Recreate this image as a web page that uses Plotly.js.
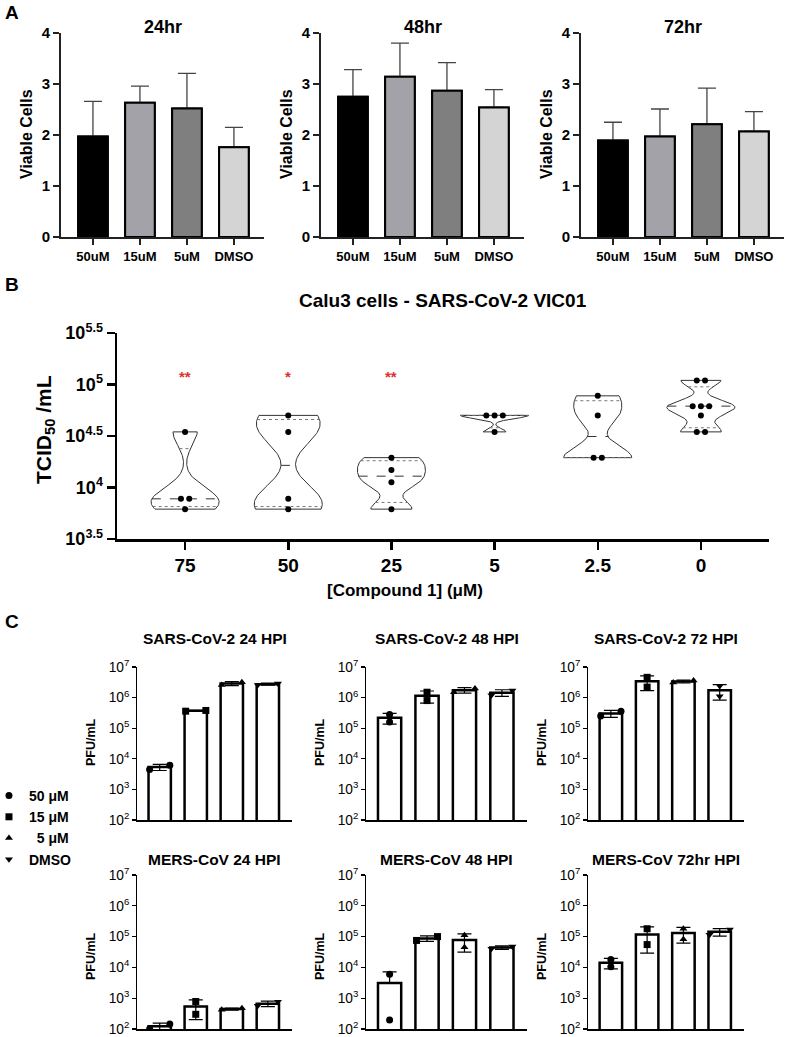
<!DOCTYPE html>
<html><head><meta charset="utf-8">
<script src="https://cdn.plot.ly/plotly-3.0.1.min.js"></script>
<style>html,body{margin:0;padding:0;background:#fff}</style>
</head><body><div id="chart" style="width:788px;height:1037px"></div>
<script>
// ---------------- DATA ----------------
// Panel A: viable cells (mean, upper SD)
const aCategories = ['50uM', '15uM', '5uM', 'DMSO'];
const aTitles = ['24hr', '48hr', '72hr'];
const aMean24 = [1.97, 2.63, 2.52, 1.76];
const aSD24 = [0.69, 0.33, 0.69, 0.39];
const aMean48 = [2.75, 3.14, 2.87, 2.54];
const aSD48 = [0.53, 0.66, 0.55, 0.35];
const aMean72 = [1.89, 1.97, 2.21, 2.07];
const aSD72 = [0.36, 0.54, 0.71, 0.39];
const aColors = ['#000000', '#a3a2a8', '#7f7f7f', '#d4d4d4'];

// Panel B: log10 TCID50/mL per dose
const bDoses = ['75', '50', '25', '5', '2.5', '0'];
const bLog75 = [4.54, 3.89, 3.89, 3.79];
const bLog50 = [4.70, 4.54, 3.89, 3.79];
const bLog25 = [4.29, 4.17, 4.05, 3.79];
const bLog5 = [4.70, 4.70, 4.70, 4.54];
const bLog2p5 = [4.89, 4.70, 4.29, 4.29];
const bLog0 = [5.04, 5.04, 4.79, 4.79, 4.79, 4.70, 4.54, 4.54];
const bSignificance = ['**', '*', '**', '', '', ''];
const bYTicks = [3.5, 4, 4.5, 5, 5.5];

// Panel C: PFU/mL, two replicates per condition
const cConditions = ['50 \u03bcM', '15 \u03bcM', '\u00a0\u00a05 \u03bcM', 'DMSO'];
const cSymbols = ['circle', 'square', 'triangle-up', 'triangle-down'];
const cTitles = ['SARS-CoV-2 24 HPI', 'SARS-CoV-2 48 HPI', 'SARS-CoV-2 72 HPI',
                 'MERS-CoV 24 HPI', 'MERS-CoV 48 HPI', 'MERS-CoV 72hr HPI'];
const cSars24 = [[4500, 6200], [360000, 380000], [2600000, 3200000], [2600000, 2900000]];
const cSars48 = [[280000, 160000], [1500000, 800000], [1500000, 2000000], [1200000, 1700000]];
const cSars72 = [[250000, 360000], [4600000, 2200000], [3100000, 3600000], [2400000, 1100000]];
const cMers24 = [[100, 145], [780, 300], [420, 470], [570, 760]];
const cMers48 = [[6000, 195], [75000, 100000], [110000, 45000], [40000, 48000]];
const cMers72 = [[18000, 10500], [180000, 55000], [180000, 82000], [115000, 170000]];

// ---------------- HELPERS ----------------
const W = 788, H = 1037;
const F = 'Liberation Sans, Arial, Helvetica, sans-serif';
const px = x => x / W;
const py = y => 1 - y / H;
const data = [];
const layout = {
  width: W, height: H, margin: {l: 0, r: 0, t: 0, b: 0, autoexpand: false},
  paper_bgcolor: '#fff', plot_bgcolor: 'rgba(0,0,0,0)',
  font: {family: F, color: '#000'},
  barmode: 'overlay', showlegend: true,
  annotations: [],
  legend: {x: -0.014, xanchor: 'left', y: py(780), yanchor: 'top', bgcolor: 'rgba(0,0,0,0)',
           font: {family: F, size: 14, weight: 'bold', color: '#000'}, itemwidth: 30, tracegroupgap: 0}
};
function ann(text, x, y, size, opts) {
  layout.annotations.push(Object.assign({text: text, x: px(x), y: py(y), xref: 'paper', yref: 'paper',
    showarrow: false, font: {family: F, size: size, color: '#000', weight: 'bold'},
    xanchor: 'center', yanchor: 'middle'}, opts || {}));
}

// ---------------- PANEL A ----------------
const aMeans = [aMean24, aMean48, aMean72];
const aSDs = [aSD24, aSD48, aSD72];
const aXdom = [[61, 264], [321, 524], [581, 784]];
for (let k = 0; k < 3; k++) {
  const n = k + 1, xa = 'x' + n, ya = 'y' + n;
  data.push({type: 'bar', x: aCategories, y: aMeans[k], xaxis: xa, yaxis: ya, width: 0.63,
    marker: {color: aColors, line: {color: '#000', width: 2}}, showlegend: false, hoverinfo: 'skip',
    error_y: {type: 'data', symmetric: false, array: aSDs[k], arrayminus: aSDs[k].map(() => 0),
              color: '#444', thickness: 1.3, width: 9}});
  data.push({type: 'bar', x: aCategories, y: aMeans[k], xaxis: xa, yaxis: ya, width: 0.63,
    marker: {color: aColors, line: {color: '#000', width: 2}}, showlegend: false, hoverinfo: 'skip'});
  layout['xaxis' + n] = {domain: [px(aXdom[k][0]), px(aXdom[k][1])], anchor: ya, type: 'category',
    range: [-0.68, 3.64], showline: true, linecolor: '#222', linewidth: 2, ticks: 'outside', ticklen: 6,
    tickwidth: 1.5, tickcolor: '#222', showgrid: false, zeroline: false, fixedrange: true,
    tickfont: {family: F, size: 13, weight: 'bold', color: '#000'}};
  layout['yaxis' + n] = {domain: [py(237), py(33)], anchor: xa, range: [0, 4], dtick: 1,
    showline: true, linecolor: '#222', linewidth: 2, ticks: 'outside', ticklen: 6, tickwidth: 1.5,
    tickcolor: '#222', showgrid: false, zeroline: false,
    tickfont: {family: F, size: 15, weight: 'bold', color: '#000'}};
  ann(aTitles[k], (aXdom[k][0] + aXdom[k][1]) / 2, 27, 18);
  ann('Viable Cells', aXdom[k][0] - 35, 134, 16, {textangle: -90});
}
ann('A', 12, 12, 19);

// ---------------- PANEL B ----------------
const bGroups = [bLog75, bLog50, bLog25, bLog5, bLog2p5, bLog0];
const halfMax = 0.33;
function quantile(s, p) {
  const pos = (s.length + 1) * p, lo = Math.floor(pos), fr = pos - lo;
  if (lo < 1) return s[0];
  if (lo >= s.length) return s[s.length - 1];
  return s[lo - 1] + fr * (s[lo] - s[lo - 1]);
}
bGroups.forEach((vals, gi) => {
  const s = vals.slice().sort((a, b) => a - b);
  const n = s.length;
  const mean = s.reduce((a, b) => a + b, 0) / n;
  const sd = Math.sqrt(s.reduce((a, b) => a + (b - mean) * (b - mean), 0) / (n - 1));
  const h = 0.5 * sd * Math.pow(n, -0.2);
  const dens = y => s.reduce((a, v) => a + Math.exp(-0.5 * ((y - v) / h) * ((y - v) / h)), 0);
  const N = 120, lo = s[0], hi = s[n - 1];
  const ys = [], ds = [];
  for (let i = 0; i <= N; i++) { const y = lo + (hi - lo) * i / N; ys.push(y); ds.push(dens(y)); }
  const dmax = Math.max(...ds);
  const wAt = y => halfMax * dens(y) / dmax;
  const vx = [], vy = [];
  for (let i = 0; i <= N; i++) { vx.push(gi + halfMax * ds[i] / dmax); vy.push(ys[i]); }
  for (let i = N; i >= 0; i--) { vx.push(gi - halfMax * ds[i] / dmax); vy.push(ys[i]); }
  vx.push(vx[0]); vy.push(vy[0]);
  data.push({type: 'scatter', mode: 'lines', x: vx, y: vy, xaxis: 'x4', yaxis: 'y4', fill: 'toself',
    fillcolor: '#fff', line: {color: '#333', width: 1}, showlegend: false, hoverinfo: 'skip'});
  [[0.25, 'dot', '#777'], [0.5, 'dash', '#333'], [0.75, 'dot', '#777']].forEach(q => {
    const qy = quantile(s, q[0]), w = wAt(qy);
    data.push({type: 'scatter', mode: 'lines', x: [gi - w, gi + w], y: [qy, qy], xaxis: 'x4', yaxis: 'y4',
      line: {color: q[2], width: 1, dash: q[1]}, showlegend: false, hoverinfo: 'skip'});
  });
  // points, ties spread horizontally
  const counts = {};
  vals.forEach(v => { const key = v.toFixed(2); counts[key] = (counts[key] || 0) + 1; });
  const seen = {};
  const xs = vals.map(v => {
    const key = v.toFixed(2); const c = counts[key]; const i = seen[key] || 0; seen[key] = i + 1;
    return gi + (i - (c - 1) / 2) * 0.08;
  });
  data.push({type: 'scatter', mode: 'markers', x: xs, y: vals, xaxis: 'x4', yaxis: 'y4',
    marker: {color: '#000', size: 6}, showlegend: false, hoverinfo: 'skip'});
  if (bSignificance[gi]) {
    layout.annotations.push({text: bSignificance[gi], x: gi, y: 5.08, xref: 'x4', yref: 'y4', showarrow: false,
      font: {family: F, size: 15, color: '#e0312b', weight: 'bold'}, xanchor: 'center', yanchor: 'middle'});
  }
});
layout.xaxis4 = {domain: [px(117), px(769)], anchor: 'y4', range: [-0.66, 5.66], tickvals: [0, 1, 2, 3, 4, 5],
  ticktext: bDoses, showline: true, linecolor: '#000', linewidth: 2.5, ticks: 'outside', ticklen: 8,
  tickwidth: 2.5, tickcolor: '#000', showgrid: false, zeroline: false,
  tickfont: {family: F, size: 19, weight: 'bold', color: '#000'}};
layout.yaxis4 = {domain: [py(539), py(333)], anchor: 'x4', range: [3.5, 5.5], tickvals: bYTicks,
  ticktext: bYTicks.map(t => '10<sup>' + t + '</sup>'), showline: true, linecolor: '#000', linewidth: 2.5,
  ticks: 'outside', ticklen: 8, tickwidth: 2.5, tickcolor: '#000', showgrid: false, zeroline: false,
  tickfont: {family: F, size: 18, weight: 'bold', color: '#000'}};
ann('B', 12, 284, 19);
ann('Calu3 cells - SARS-CoV-2 VIC01', 443, 300, 19);
ann('[Compound 1] (\u03bcM)', 405, 590, 17);
ann('TCID<sub>50</sub> /mL', 45, 430, 21, {textangle: -90});

// ---------------- PANEL C ----------------
const cSets = [cSars24, cSars48, cSars72, cMers24, cMers48, cMers72];
const cXdom = [[137, 292], [366, 527], [588, 744]];
const cYdom = [[667, 820], [875, 1029]];
cSets.forEach((set, si) => {
  const n = si + 5, xa = 'x' + n, ya = 'y' + n;
  const col = si % 3, row = Math.floor(si / 3);
  const means = set.map(r => (r[0] + r[1]) / 2);
  const sds = set.map((r, i) => Math.sqrt(((r[0] - means[i]) ** 2 + (r[1] - means[i]) ** 2) / 1));
  const minus = sds.map((s, i) => (means[i] - s > 0 ? s : 0));
  data.push({type: 'bar', x: [0, 1, 2, 3], y: means, xaxis: xa, yaxis: ya, width: 0.62,
    marker: {color: '#fff', line: {color: '#000', width: 2.5}}, showlegend: false, hoverinfo: 'skip',
    error_y: {type: 'data', symmetric: false, array: sds, arrayminus: minus, color: '#000', thickness: 1.2, width: 7}});
  set.forEach((r, ci) => {
    const spread = Math.abs(Math.log10(r[0]) - Math.log10(r[1])) < 0.2;
    let xs;
    if (!spread) xs = [ci, ci];
    else if (r[0] <= r[1]) xs = [ci - 0.28, ci + 0.28];
    else xs = [ci + 0.28, ci - 0.28];
    data.push({type: 'scatter', mode: 'markers', x: xs, y: r, xaxis: xa, yaxis: ya, name: cConditions[ci],
      legendgroup: 'c' + ci, showlegend: si === 0, hoverinfo: 'skip',
      marker: {symbol: cSymbols[ci], color: '#000', size: 7}});
  });
  layout['xaxis' + n] = {domain: [px(cXdom[col][0]), px(cXdom[col][1])], anchor: ya, range: [-0.63, 3.67],
    showline: true, linecolor: '#000', linewidth: 1.5, ticks: '', showticklabels: false,
    showgrid: false, zeroline: false};
  layout['yaxis' + n] = {domain: [py(cYdom[row][1]), py(cYdom[row][0])], anchor: xa, type: 'log', range: [2, 7],
    dtick: 1, exponentformat: 'power', showline: true, linecolor: '#000', linewidth: 1.5, ticks: 'outside',
    ticklen: 4, tickwidth: 1.2, tickcolor: '#000', showgrid: false, zeroline: false, ticklabeloverflow: 'allow',
    tickfont: {family: F, size: 11, color: '#000'}};
  ann(cTitles[si], (cXdom[col][0] + cXdom[col][1]) / 2, row === 0 ? 638 : 859, 15.5);
  ann('PFU/mL', cXdom[col][0] - 46, row === 0 ? 742 : 956, 12.5, {textangle: -90});
});
ann('C', 12, 621, 19);

Plotly.newPlot('chart', data, layout, {staticPlot: true, displayModeBar: false});
</script>
</body></html>
